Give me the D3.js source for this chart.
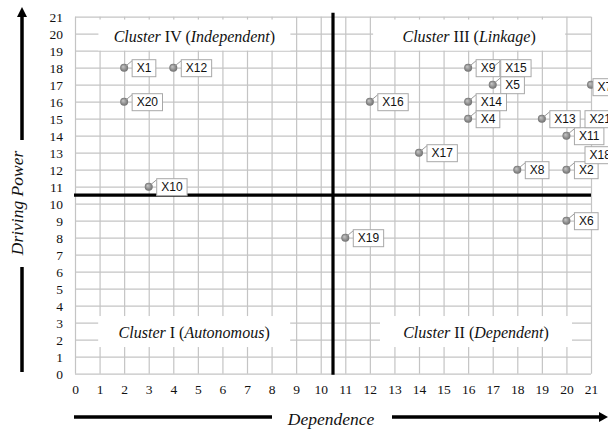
<!DOCTYPE html>
<html>
<head>
<meta charset="utf-8">
<script src="https://cdn.jsdelivr.net/npm/d3@7"></script>
<style>
  body { margin: 0; background: #fff; }
  .tick text { font-family: "Liberation Serif", "Times New Roman", serif; font-size: 13.5px; fill: #111; }
  .grid line { stroke: #c4c4c4; stroke-width: 1.2; }
  .callout text { font-family: "Liberation Sans", Arial, sans-serif; font-size: 12px; fill: #111; }
  .cluster text { font-family: "Liberation Serif", "Times New Roman", serif; font-size: 16px; fill: #111; }
  .axis-title { font-family: "Liberation Serif", "Times New Roman", serif; font-style: italic; font-size: 17.5px; fill: #111; }
</style>
</head>
<body>
<div id="micmac"></div>
<script>
// Variables plotted on the MICMAC grid (X3 is not shown in the picture)
const variables = ["X1", "X2", "X4", "X5", "X6", "X7", "X8", "X9", "X10", "X11",
                   "X12", "X13", "X14", "X15", "X16", "X17", "X18", "X19", "X20", "X21"];
const dependence = [2, 20, 16, 17, 20, 21, 18, 16, 3, 20,
                    4, 19, 16, 17, 12, 14, 21, 11, 2, 21];
const drivingPower = [18, 12, 15, 17, 9, 17, 12, 18, 11, 14,
                      18, 15, 16, 18, 16, 13, 13, 8, 16, 15];

// Quadrants
const clusterNumerals = ["I", "II", "III", "IV"];
const clusterRoles = ["Autonomous", "Dependent", "Linkage", "Independent"];

// Axis ticks
const tickValues = d3.range(0, 22);
const splitValue = 10.5;

// Layout
const width = 608;
const height = 431;
const margin = { top: 16.7, right: 17, bottom: 57.3, left: 75 };
const innerWidth = width - margin.left - margin.right;
const innerHeight = height - margin.top - margin.bottom;

// Where each cluster title box is centred (data units) and manual callout nudges
const clusterAnchors = [[4.85, 2.48], [16.32, 2.48], [16.04, 19.92], [4.86, 19.92]];
const clusterBox = { width: 192, height: 31 };
const calloutNudge = { X7: [2, -6], X18: [-6, -6], X21: [-6, -8] };

const data = variables.map((v, i) => ({ name: v, x: dependence[i], y: drivingPower[i] }));

const svg = d3.select("#micmac")
  .append("svg")
    .attr("width", width)
    .attr("height", height);

const defs = svg.append("defs");
const grad = defs.append("radialGradient")
    .attr("id", "dot")
    .attr("fx", "35%")
    .attr("fy", "35%");
grad.append("stop").attr("offset", "0%").attr("stop-color", "#c8c8c8");
grad.append("stop").attr("offset", "100%").attr("stop-color", "#707070");

const innerChart = svg
  .append("g")
    .attr("transform", `translate(${margin.left}, ${margin.top})`);

/****************************/
/*    Declare the scales    */
/****************************/
const xScale = d3.scaleLinear()
  .domain([0, 21])
  .range([0, innerWidth]);

const yScale = d3.scaleLinear()
  .domain([0, 21])
  .range([innerHeight, 0]);

/***************************/
/*     Grid and axes       */
/***************************/
const bottomAxis = innerChart
  .append("g")
    .attr("class", "grid")
    .attr("transform", `translate(0, ${innerHeight})`)
    .call(d3.axisBottom(xScale).tickValues(tickValues).tickSize(-innerHeight).tickFormat(d3.format("d")));
bottomAxis.select(".domain").remove();
bottomAxis.selectAll("text")
    .attr("y", 20)
    .attr("dy", 0);

const leftAxis = innerChart
  .append("g")
    .attr("class", "grid")
    .call(d3.axisLeft(yScale).tickValues(tickValues).tickSize(-innerWidth).tickPadding(12).tickFormat(d3.format("d")));
leftAxis.select(".domain").remove();

/*********************************/
/*     Cluster title boxes       */
/*********************************/
clusterNumerals.forEach((num, i) => {
  const [cx, cy] = clusterAnchors[i];
  const g = innerChart.append("g").attr("class", "cluster");
  g.append("rect")
      .attr("x", xScale(cx) - clusterBox.width / 2)
      .attr("y", yScale(cy) - clusterBox.height / 2)
      .attr("width", clusterBox.width)
      .attr("height", clusterBox.height)
      .attr("fill", "#fff");
  const text = g.append("text")
      .attr("x", xScale(cx))
      .attr("y", yScale(cy) + 6.5)
      .attr("text-anchor", "middle");
  text.append("tspan").attr("font-style", "italic").text("Cluster ");
  text.append("tspan").text(num + " (");
  text.append("tspan").attr("font-style", "italic").text(clusterRoles[i]);
  text.append("tspan").text(")");
});

/*********************************/
/*     Quadrant split lines      */
/*********************************/
innerChart
  .append("line")
    .attr("x1", xScale(splitValue))
    .attr("x2", xScale(splitValue))
    .attr("y1", -4)
    .attr("y2", innerHeight + 1)
    .attr("stroke", "#000")
    .attr("stroke-width", 3.2);
innerChart
  .append("line")
    .attr("x1", -1)
    .attr("x2", innerWidth)
    .attr("y1", yScale(splitValue))
    .attr("y2", yScale(splitValue))
    .attr("stroke", "#000")
    .attr("stroke-width", 3.2);

/******************************/
/*     Points and callouts    */
/******************************/
innerChart
  .selectAll(".point")
  .data(data)
  .join("circle")
    .attr("class", "point")
    .attr("cx", d => xScale(d.x))
    .attr("cy", d => yScale(d.y))
    .attr("r", 4)
    .attr("fill", "url(#dot)");

const callouts = innerChart
  .selectAll(".callout")
  .data(data)
  .join("g")
    .attr("class", "callout");

callouts.each(function(d) {
  const g = d3.select(this);
  const px = xScale(d.x);
  const py = yScale(d.y);
  const [dx, dy] = calloutNudge[d.name] || [8, -8];
  const bx = px + dx;
  const by = py + dy;
  const text = g.append("text")
      .attr("x", bx + 4.5)
      .attr("y", by + 12.8)
      .text(d.name);
  const w = text.node().getComputedTextLength() + 9;
  if (dx > 5) {
    g.insert("path", "text")
        .attr("d", `M${px + 2},${py - 2} L${bx},${by + 1}`)
        .attr("stroke", "#9a9a9a")
        .attr("fill", "none");
  }
  g.insert("rect", "text")
      .attr("x", bx)
      .attr("y", by)
      .attr("width", w)
      .attr("height", 17)
      .attr("fill", "#fff")
      .attr("stroke", "#a8a8a8");
});

/*****************************/
/*     Axis titles/arrows    */
/*****************************/
const arrowY = 417;
const arrowX = 22;

svg.append("line")
    .attr("x1", 74).attr("x2", 272)
    .attr("y1", arrowY).attr("y2", arrowY)
    .attr("stroke", "#000").attr("stroke-width", 3.5);
svg.append("line")
    .attr("x1", 392).attr("x2", 601)
    .attr("y1", arrowY).attr("y2", arrowY)
    .attr("stroke", "#000").attr("stroke-width", 3.5);
svg.append("polygon")
    .attr("points", `608,${arrowY} 599,${arrowY - 5} 599,${arrowY + 5}`)
    .attr("fill", "#000");
svg.append("text")
    .attr("class", "axis-title")
    .attr("x", 331)
    .attr("y", 425)
    .attr("text-anchor", "middle")
    .text("Dependence");

svg.append("line")
    .attr("x1", arrowX).attr("x2", arrowX)
    .attr("y1", 372).attr("y2", 267)
    .attr("stroke", "#000").attr("stroke-width", 3.5);
svg.append("line")
    .attr("x1", arrowX).attr("x2", arrowX)
    .attr("y1", 140).attr("y2", 15)
    .attr("stroke", "#000").attr("stroke-width", 3.5);
svg.append("polygon")
    .attr("points", `${arrowX},7 ${arrowX - 5},17 ${arrowX + 5},17`)
    .attr("fill", "#000");
svg.append("text")
    .attr("class", "axis-title")
    .attr("transform", `translate(23, 203) rotate(-90)`)
    .attr("text-anchor", "middle")
    .text("Driving Power");
</script>
</body>
</html>
